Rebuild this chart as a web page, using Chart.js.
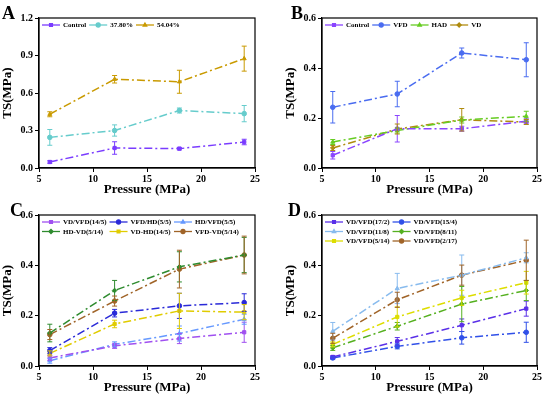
<!DOCTYPE html>
<html>
<head>
<meta charset="utf-8">
<script src="https://cdn.jsdelivr.net/npm/chart.js@4.4.1/dist/chart.umd.min.js"></script>
<style>
  body { margin: 0; background: #fff; }
  .panel { position: absolute; }
</style>
</head>
<body>
<div class="panel" style="left:0;top:0;width:275px;height:197px"><canvas id="cA"></canvas></div>
<div class="panel" style="left:275px;top:0;width:275px;height:197px"><canvas id="cB"></canvas></div>
<div class="panel" style="left:0;top:197px;width:275px;height:201px"><canvas id="cC"></canvas></div>
<div class="panel" style="left:275px;top:197px;width:275px;height:201px"><canvas id="cD"></canvas></div>
<script>
const pressure = [6, 12, 18, 24];

// panel A
const aNames = ["Control", "37.80%", "54.04%"];
const aControl = [0.048, 0.16, 0.155, 0.208];
const aControlErr = [0.01, 0.05, 0.01, 0.022];
const a3780 = [0.245, 0.30, 0.46, 0.435];
const a3780Err = [0.063, 0.045, 0.02, 0.065];
const a5404 = [0.43, 0.71, 0.69, 0.875];
const a5404Err = [0.02, 0.03, 0.092, 0.1];

// panel B
const bNames = ["Control", "VFD", "HAD", "VD"];
const bControl = [0.051, 0.157, 0.157, 0.187];
const bControlErr = [0.015, 0.053, 0.01, 0.01];
const bVFD = [0.243, 0.296, 0.46, 0.433];
const bVFDErr = [0.063, 0.051, 0.02, 0.068];
const bHAD = [0.104, 0.15, 0.192, 0.207];
const bHADErr = [0.01, 0.01, 0.012, 0.02];
const bVD = [0.08, 0.156, 0.193, 0.184];
const bVDErr = [0.01, 0.02, 0.045, 0.01];

// panel C
const cNames = ["VD/VFD(14/5)", "VFD/HD(5/5)", "HD/VFD(5/5)", "HD-VD(5/14)", "VD-HD(14/5)", "VFD-VD(5/14)"];
const cVDVFD = [0.032, 0.08, 0.109, 0.134];
const cVDVFDErr = [0.01, 0.01, 0.02, 0.04];
const cVFDHD = [0.061, 0.21, 0.239, 0.252];
const cVFDHDErr = [0.012, 0.015, 0.05, 0.035];
const cHDVFD = [0.021, 0.086, 0.129, 0.186];
const cHDVFDErr = [0.01, 0.01, 0.03, 0.02];
const cHDVD = [0.131, 0.30, 0.394, 0.441];
const cHDVDErr = [0.035, 0.04, 0.06, 0.07];
const cVDHD = [0.05, 0.167, 0.219, 0.214];
const cVDHDErr = [0.01, 0.015, 0.07, 0.03];
const cVFDVD = [0.125, 0.258, 0.385, 0.441];
const cVFDVDErr = [0.02, 0.02, 0.075, 0.075];

// panel D
const dNames = ["VD/VFD(17/2)", "VD/VFD(15/4)", "VD/VFD(11/8)", "VD/VFD(8/11)", "VD/VFD(5/14)", "VD/VFD(2/17)"];
const d17_2 = [0.036, 0.098, 0.162, 0.228];
const d17_2Err = [0.005, 0.015, 0.025, 0.03];
const d15_4 = [0.032, 0.078, 0.112, 0.134];
const d15_4Err = [0.005, 0.01, 0.025, 0.04];
const d11_8 = [0.138, 0.308, 0.361, 0.43];
const d11_8Err = [0.035, 0.06, 0.08, 0.02];
const d8_11 = [0.072, 0.158, 0.246, 0.30];
const d8_11Err = [0.01, 0.015, 0.07, 0.04];
const d5_14 = [0.086, 0.195, 0.271, 0.331];
const d5_14Err = [0.01, 0.04, 0.03, 0.045];
const d2_17 = [0.11, 0.263, 0.361, 0.42];
const d2_17Err = [0.02, 0.03, 0.04, 0.08];

const serif = "'Liberation Serif', 'Times New Roman', serif";
const markers = ["rect", "circle", "triangle", "rectRot", "rect", "circle"];
const dashDot = [8, 3, 2, 3];

// box around the plot, error bars, panel letter and the legend inside the plot
const panelExtras = {
  id: "panelExtras",
  afterDatasetsDraw(chart) {
    const ctx = chart.ctx;
    const ys = chart.scales.y;
    chart.data.datasets.forEach((ds, i) => {
      const meta = chart.getDatasetMeta(i);
      ctx.save();
      ctx.strokeStyle = ds.borderColor;
      ctx.lineWidth = 1;
      meta.data.forEach((pt, j) => {
        const v = ds.data[j].y, e = ds.errors[j];
        const y1 = ys.getPixelForValue(v + e), y2 = ys.getPixelForValue(v - e);
        ctx.beginPath();
        ctx.moveTo(pt.x, y1); ctx.lineTo(pt.x, y2);
        ctx.moveTo(pt.x - 2.5, y1); ctx.lineTo(pt.x + 2.5, y1);
        ctx.moveTo(pt.x - 2.5, y2); ctx.lineTo(pt.x + 2.5, y2);
        ctx.stroke();
      });
      ctx.restore();
    });
  },
  afterDraw(chart, args, opts) {
    const ctx = chart.ctx;
    const a = chart.chartArea;
    ctx.save();
    ctx.strokeStyle = "#000";
    ctx.lineWidth = 1.2;
    ctx.strokeRect(a.left, a.top, a.right - a.left, a.bottom - a.top);

    ctx.fillStyle = "#000";
    ctx.font = "bold 18px " + serif;
    ctx.textBaseline = "alphabetic";
    ctx.fillText(opts.letter, a.left + opts.letterDx, a.top + 1);

    // legend
    ctx.font = "bold 7px " + serif;
    ctx.textBaseline = "middle";
    const sets = chart.data.datasets;
    const cols = opts.cols;
    const colW = [];
    sets.forEach((ds, i) => {
      const c = i % cols;
      const w = 18 + 3 + ctx.measureText(ds.label).width + 3;
      colW[c] = Math.max(colW[c] || 0, w);
    });
    sets.forEach((ds, i) => {
      const c = i % cols, r = Math.floor(i / cols);
      let x = a.left + 3;
      for (let k = 0; k < c; k++) x += colW[k];
      const y = a.top + 7 + r * 9.5;
      ctx.strokeStyle = ds.borderColor;
      ctx.lineWidth = 1.3;
      ctx.setLineDash([]);
      ctx.beginPath(); ctx.moveTo(x, y); ctx.lineTo(x + 18, y); ctx.stroke();
      ctx.fillStyle = ds.borderColor;
      Chart.helpers.drawPoint(ctx, { pointStyle: ds.pointStyle, radius: 2, borderWidth: 1 }, x + 9, y);
      ctx.fillStyle = "#000";
      ctx.fillText(ds.label, x + 21, y + 0.5);
    });
    ctx.restore();
  }
};

function makePanel(id, letter, letterDx, names, values, errors, colors, yMax, yStep, cols, padLeft, padRight, padBottom) {
  const datasets = names.map((n, i) => ({
    label: n,
    data: pressure.map((p, j) => ({ x: p, y: values[i][j] })),
    errors: errors[i],
    borderColor: colors[i],
    backgroundColor: colors[i],
    borderWidth: 1.5,
    borderDash: dashDot,
    pointStyle: markers[i],
    pointRadius: 2.3,
    pointBorderWidth: 1,
    tension: 0
  }));
  const tickFont = { family: serif, weight: "bold", size: 10 };
  const titleFont = { family: serif, weight: "bold", size: 13 };
  return new Chart(document.getElementById(id), {
    type: "line",
    data: { datasets: datasets },
    plugins: [panelExtras],
    options: {
      responsive: true,
      maintainAspectRatio: false,
      animation: false,
      layout: { padding: { left: padLeft, right: padRight, top: 18, bottom: padBottom } },
      plugins: {
        legend: { display: false },
        tooltip: { enabled: false },
        panelExtras: { letter: letter, letterDx: letterDx, cols: cols }
      },
      scales: {
        x: {
          type: "linear", min: 5, max: 25,
          ticks: { stepSize: 5, color: "#000", font: tickFont, padding: 1 },
          grid: { drawOnChartArea: false, tickLength: 4, color: "#000" },
          border: { color: "#000", width: 1.2 },
          title: { display: true, text: "Pressure (MPa)", color: "#000", font: titleFont, padding: { top: 0, bottom: 0 } },
          afterFit(axis) { axis.height = 29; }
        },
        y: {
          min: 0, max: yMax,
          ticks: { stepSize: yStep, color: "#000", font: tickFont, padding: 2,
                   callback: v => v.toFixed(1) },
          grid: { drawOnChartArea: false, tickLength: 4, color: "#000" },
          border: { color: "#000", width: 1.2 },
          title: { display: true, text: "TS(MPa)", color: "#000", font: titleFont, padding: { top: 0, bottom: 2 } },
          afterFit(axis) { axis.width = 39; }
        }
      }
    }
  });
}

makePanel("cA", "A", -37, aNames,
  [aControl, a3780, a5404], [aControlErr, a3780Err, a5404Err],
  ["#7a3cff", "#66cccc", "#c99a00"], 1.2, 0.3, 3, 0, 20, 0);

makePanel("cB", "B", -31, bNames,
  [bControl, bVFD, bHAD, bVD], [bControlErr, bVFDErr, bHADErr, bVDErr],
  ["#8a45ff", "#4a6cf0", "#66cc22", "#b08c10"], 0.6, 0.2, 4, 8, 13, 0);

makePanel("cC", "C", -29, cNames,
  [cVDVFD, cVFDHD, cHDVFD, cHDVD, cVDHD, cVFDVD],
  [cVDVFDErr, cVFDHDErr, cHDVFDErr, cHDVDErr, cVDHDErr, cVFDVDErr],
  ["#a050f0", "#2a2ad8", "#6699ff", "#2e8b2e", "#e0cc00", "#a06428"], 0.6, 0.2, 3, 0, 20, 3);

makePanel("cD", "D", -34, dNames,
  [d17_2, d15_4, d11_8, d8_11, d5_14, d2_17],
  [d17_2Err, d15_4Err, d11_8Err, d8_11Err, d5_14Err, d2_17Err],
  ["#5a30e8", "#3050e8", "#88bbee", "#55b020", "#dddd00", "#a06428"], 0.6, 0.2, 2, 8, 13, 3);
</script>
</body>
</html>
